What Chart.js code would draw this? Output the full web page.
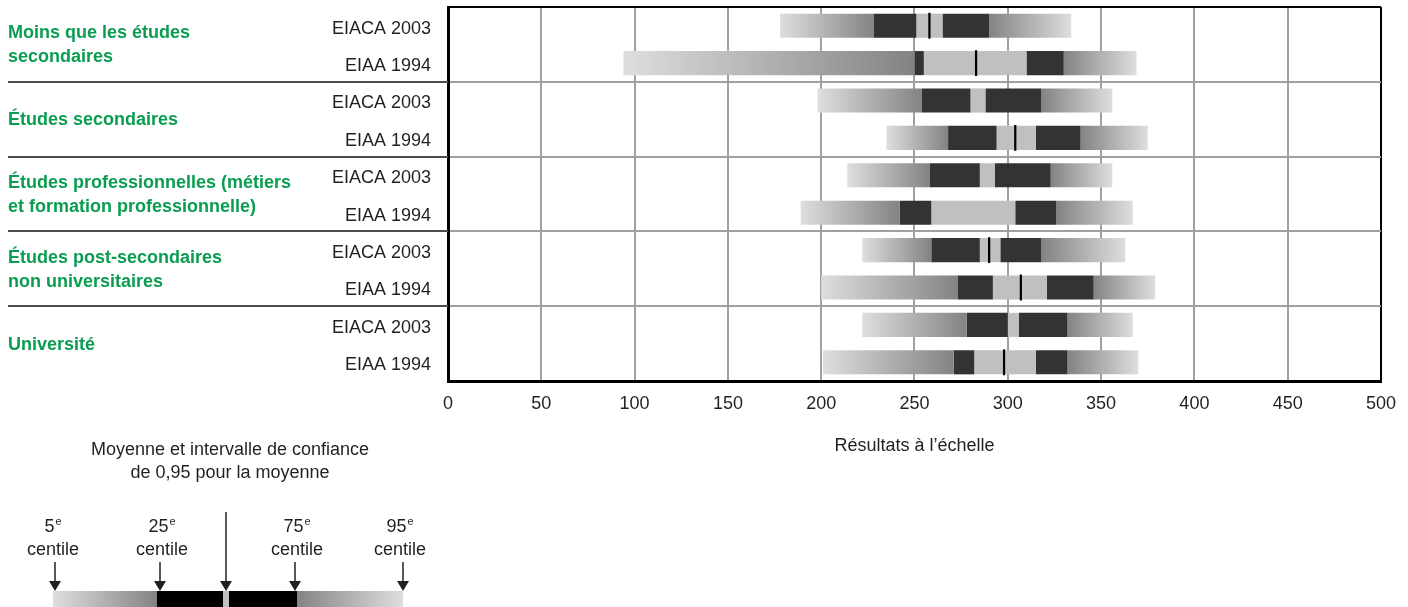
<!DOCTYPE html>
<html lang="fr">
<head>
<meta charset="utf-8">
<title>Résultats à l'échelle</title>
<script src="https://cdn.jsdelivr.net/npm/chart.js@4.4.1/dist/chart.umd.min.js"></script>
<style>
  html, body { margin: 0; padding: 0; background: #fff; }
  #chart { display: block; }
</style>
</head>
<body>
<canvas id="chart" width="1408" height="607"></canvas>
<script>
const groupLabels = [
    ["Moins que les études", "secondaires"],
    ["Études secondaires"],
    ["Études professionnelles (métiers", "et formation professionnelle)"],
    ["Études post-secondaires", "non universitaires"],
    ["Université"]
];
const surveys = ["EIACA 2003", "EIAA 1994", "EIACA 2003", "EIAA 1994", "EIACA 2003",
                 "EIAA 1994", "EIACA 2003", "EIAA 1994", "EIACA 2003", "EIAA 1994"];

// percentiles, confidence interval and mean, one value per row (top to bottom)
const p5     = [178,  94, 198, 235, 214, 189, 222, 200, 222, 201];
const p25    = [228, 250, 254, 268, 258, 242, 259, 273, 278, 271];
const ciLow  = [251, 255, 280, 294, 285, 259, 285, 292, 300, 282];
const mean   = [258, 283, null, 304, null, null, 290, 307, null, 298];
const ciHigh = [265, 310, 288, 315, 293, 304, 296, 321, 306, 315];
const p75    = [290, 330, 318, 339, 323, 326, 318, 346, 332, 332];
const p95    = [334, 369, 356, 375, 356, 367, 363, 379, 367, 370];

const xTicks = [0, 50, 100, 150, 200, 250, 300, 350, 400, 450, 500];
const xTitle = "Résultats à l’échelle";
const keyTitle = ["Moyenne et intervalle de confiance", "de 0,95 pour la moyenne"];
const keyMarks = ["5", "25", "75", "95"];

const FONT = '"Liberation Sans", Arial, sans-serif';
const TEXT = "#231f20";
const GREEN = "#0a9d50";
const LIGHT = "#dedede";
const MID = "#838383";
const DARK = "#333333";
const CI = "#c0c0c0";

Chart.defaults.font.family = FONT;
Chart.defaults.color = TEXT;

// gradient between two data values of the row
function tailGradient(from, to, c1, c2) {
    return function (c) {
        const chart = c.chart;
        if (!chart.chartArea) return c1;
        const x = chart.scales.x;
        const i = c.dataIndex;
        const g = chart.ctx.createLinearGradient(x.getPixelForValue(from[i]), 0, x.getPixelForValue(to[i]), 0);
        g.addColorStop(0, c1);
        g.addColorStop(1, c2);
        return g;
    };
}

function range(a, b) {
    return a.map((v, i) => (v == null || b[i] == null) ? null : [v, b[i]]);
}

const barOpts = { grouped: false, barPercentage: 0.645, categoryPercentage: 1, borderWidth: 0, borderSkipped: false };

// legend key under the labels
function drawKey(ctx) {
    ctx.fillStyle = TEXT;
    ctx.textAlign = "center";
    ctx.textBaseline = "alphabetic";
    ctx.font = "18px " + FONT;
    ctx.fillText(keyTitle[0], 230, 455);
    ctx.fillText(keyTitle[1], 230, 478);

    const top = 591, h = 16;
    let g = ctx.createLinearGradient(53, 0, 157, 0);
    g.addColorStop(0, LIGHT); g.addColorStop(1, MID);
    ctx.fillStyle = g;
    ctx.fillRect(53, top, 104, h);
    ctx.fillStyle = "#000";
    ctx.fillRect(157, top, 66, h);
    ctx.fillStyle = CI;
    ctx.fillRect(223, top, 6, h);
    ctx.fillStyle = "#000";
    ctx.fillRect(229, top, 68, h);
    g = ctx.createLinearGradient(297, 0, 403, 0);
    g.addColorStop(0, MID); g.addColorStop(1, LIGHT);
    ctx.fillStyle = g;
    ctx.fillRect(297, top, 106, h);

    const xs = [55, 160, 295, 403];
    const cx = [53, 162, 297, 400];
    keyMarks.forEach((n, k) => {
        ctx.font = "18px " + FONT;
        const w1 = ctx.measureText(n).width;
        ctx.font = "11px " + FONT;
        const w2 = ctx.measureText("e").width;
        const left = cx[k] - (w1 + w2 + 1) / 2;
        ctx.fillStyle = TEXT;
        ctx.textAlign = "left";
        ctx.font = "18px " + FONT;
        ctx.fillText(n, left, 532);
        ctx.font = "11px " + FONT;
        ctx.fillText("e", left + w1 + 1, 525);
        ctx.textAlign = "center";
        ctx.font = "18px " + FONT;
        ctx.fillText("centile", cx[k], 555);
        arrow(ctx, xs[k], 562);
    });
    arrow(ctx, 226, 512);
}

function arrow(ctx, x, y0) {
    ctx.strokeStyle = "#231f20";
    ctx.fillStyle = "#231f20";
    ctx.lineWidth = 1.5;
    ctx.beginPath();
    ctx.moveTo(x, y0);
    ctx.lineTo(x, 583);
    ctx.stroke();
    ctx.beginPath();
    ctx.moveTo(x - 6, 581);
    ctx.lineTo(x + 6, 581);
    ctx.lineTo(x, 591);
    ctx.closePath();
    ctx.fill();
}

const sidePlugin = {
    id: "side",
    afterDraw(chart) {
        const ctx = chart.ctx;
        const y = chart.scales.y;
        const area = chart.chartArea;
        ctx.save();

        // group separators in the label column
        ctx.strokeStyle = "#4d4d4d";
        ctx.lineWidth = 2;
        for (let g = 1; g < groupLabels.length; g++) {
            const yy = Math.round((y.getPixelForValue(2 * g - 1) + y.getPixelForValue(2 * g)) / 2);
            ctx.beginPath();
            ctx.moveTo(8, yy);
            ctx.lineTo(area.left, yy);
            ctx.stroke();
        }

        // group names
        ctx.fillStyle = GREEN;
        ctx.font = "bold 18px " + FONT;
        ctx.textAlign = "left";
        ctx.textBaseline = "middle";
        groupLabels.forEach((lines, g) => {
            const yc = (y.getPixelForValue(2 * g) + y.getPixelForValue(2 * g + 1)) / 2 + 1;
            lines.forEach((t, k) => {
                ctx.fillText(t, 8, yc + (k - (lines.length - 1) / 2) * 24);
            });
        });

        drawKey(ctx);
        ctx.restore();
    }
};

new Chart(document.getElementById("chart"), {
    type: "bar",
    data: {
        labels: surveys,
        datasets: [
            // mean first so it is painted over the boxes
            {
                data: mean.map(m => m == null ? null : [m - 0.6, m + 0.6]),
                backgroundColor: "#000",
                ...barOpts,
                barPercentage: 0.69
            },
            { data: range(p5, p25), backgroundColor: tailGradient(p5, p25, LIGHT, MID), ...barOpts },
            { data: range(p25, ciLow), backgroundColor: DARK, ...barOpts },
            { data: range(ciLow, ciHigh), backgroundColor: CI, ...barOpts },
            { data: range(ciHigh, p75), backgroundColor: DARK, ...barOpts },
            { data: range(p75, p95), backgroundColor: tailGradient(p75, p95, MID, LIGHT), ...barOpts }
        ]
    },
    options: {
        indexAxis: "y",
        responsive: false,
        animation: false,
        layout: { padding: { left: 0, right: 27, top: 7, bottom: 150 } },
        plugins: {
            legend: { display: false },
            tooltip: { enabled: false }
        },
        scales: {
            x: {
                type: "linear",
                min: 0,
                max: 500,
                afterBuildTicks: s => { s.ticks = xTicks.map(v => ({ value: v })); },
                afterFit: s => { s.height = 76; },
                grid: {
                    drawTicks: false,
                    lineWidth: 2,
                    color: c => (c.tick && (c.tick.value === 500)) ? "#000" : "#a0a0a0"
                },
                border: { display: true, color: "#000", width: 3 },
                ticks: { padding: 12, font: { size: 18 }, color: TEXT },
                title: { display: true, text: xTitle, font: { size: 18 }, color: TEXT, padding: { top: 0, bottom: 0 } }
            },
            y: {
                afterFit: s => { s.width = 448; s.paddingTop = 0; s.paddingBottom = 0; },
                grid: {
                    drawTicks: false,
                    offset: true,
                    lineWidth: 2,
                    color: c => {
                        if (c.index === 0 || c.index === surveys.length) return "#000";
                        return c.index % 2 === 0 ? "#a0a0a0" : "rgba(0,0,0,0)";
                    }
                },
                border: { display: true, color: "#000", width: 3 },
                ticks: { padding: 17, font: { size: 18 }, color: TEXT, labelOffset: 3 }
            }
        }
    },
    plugins: [sidePlugin]
});
</script>
</body>
</html>
